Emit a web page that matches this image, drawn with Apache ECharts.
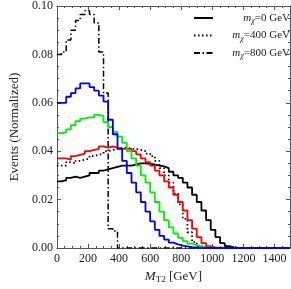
<!DOCTYPE html>
<html><head><meta charset="utf-8">
<script src="https://cdn.jsdelivr.net/npm/echarts@6/dist/echarts.min.js"></script>
<style>html,body{margin:0;padding:0;background:#fff}#c{width:291px;height:289px}</style>
</head><body><div id="c"></div>
<script>
const binWidth = 30;
const legendNames = ['m_χ=0 GeV', 'm_χ=400 GeV', 'm_χ=800 GeV'];
const mchi0 = [0.0275,0.028,0.029,0.0295,0.029,0.0295,0.030,0.031,0.031,0.032,
  0.0325,0.033,0.0335,0.034,0.034,0.034,0.0345,0.035,0.035,0.0348,
  0.0345,0.034,0.0337,0.033,0.0315,0.030,0.029,0.027,0.025,0.022,
  0.019,0.0155,0.0115,0.0075,0.0045,0.002,0.0008,0.0003,0,0,
  0,0,0,0,0,0,0,0,0,0];
const mchi400 = [0.034,0.034,0.0355,0.035,0.036,0.0365,0.037,0.038,0.0385,0.039,
  0.040,0.0405,0.041,0.0415,0.0415,0.041,0.041,0.0405,0.040,0.039,
  0.038,0.036,0.033,0.030,0.027,0.0225,0.018,0.012,0.0065,0.0025,
  0.0008,0.0002,0,0,0,0,0,0,0,0,
  0,0,0,0,0,0,0,0,0,0];
const mchi800 = [0.080,0.081,0.086,0.090,0.094,0.0965,0.098,0.0965,0.093,0.081,
  0.064,0.008,0.007,0,0,0,0,0,0,0,
  0,0,0,0,0,0,0,0,0,0,
  0,0,0,0,0,0,0,0,0,0,
  0,0,0,0,0,0,0,0,0,0];
const redVals = [0.037,0.037,0.0365,0.038,0.0385,0.039,0.040,0.0405,0.041,0.042,
  0.0415,0.042,0.0415,0.041,0.041,0.041,0.040,0.0387,0.037,0.0355,
  0.034,0.032,0.030,0.0275,0.025,0.022,0.019,0.0155,0.0115,0.008,
  0.0045,0.002,0.0008,0.0003,0,0,0,0,0,0,
  0,0,0,0,0,0,0,0,0,0];
const greenVals = [0.0475,0.0478,0.049,0.0508,0.0524,0.0535,0.054,0.054,0.055,0.0545,
  0.052,0.050,0.048,0.046,0.0435,0.040,0.037,0.034,0.030,0.027,
  0.023,0.019,0.015,0.0115,0.0085,0.006,0.0042,0.0028,0.0018,0.0012,
  0.0007,0.0004,0.0002,0,0,0,0,0,0,0,
  0,0,0,0,0,0,0,0,0,0];
const blueVals = [0.060,0.060,0.0625,0.064,0.066,0.068,0.068,0.0665,0.065,0.063,
  0.0605,0.053,0.047,0.041,0.036,0.031,0.027,0.023,0.019,0.015,
  0.011,0.0075,0.005,0.0035,0.0022,0.0015,0.001,0.0007,0.0004,0.0002,
  0,0,0,0,0,0,0,0,0,0,
  0,0,0,0,0,0,0,0,0,0];

function toSteps(vals){
  const d = vals.map((v,i)=>[i*binWidth, v]);
  d.push([vals.length*binWidth, vals[vals.length-1]]);
  return d;
}
const serif = '"Liberation Serif", "DejaVu Serif", serif';
const axisCol = '#555';
const txt = '#222';
function mkLine(name, vals, color, width, type){
  return {name, type:'line', step:'end', symbol:'none', showSymbol:false,
    data: toSteps(vals), lineStyle:{color, width, type}, itemStyle:{color},
    emphasis:{disabled:true}, animation:false};
}
const chart = echarts.init(document.getElementById('c'), null, {renderer:'canvas'});
const xCommon = {type:'value', min:0, max:1500, interval:200,
  axisLine:{show:true, onZero:false, lineStyle:{color:axisCol, width:1}},
  axisTick:{show:true, inside:true, length:4, lineStyle:{color:axisCol}},
  minorTick:{show:true, splitNumber:4, length:2, lineStyle:{color:axisCol}},
  splitLine:{show:false}};
const yCommon = {type:'value', min:0, max:0.10, interval:0.02,
  axisLine:{show:true, onZero:false, lineStyle:{color:axisCol, width:1}},
  axisTick:{show:true, inside:true, length:4, lineStyle:{color:axisCol}},
  minorTick:{show:true, splitNumber:4, length:2, lineStyle:{color:axisCol}},
  splitLine:{show:false}};
chart.setOption({
  animation:false,
  backgroundColor:'#fff',
  grid:{left:41, right:1, top:6, bottom:35},
  legend:{
    data: legendNames, orient:'vertical', left:188, top:7.5,
    itemWidth:19, itemHeight:10, itemGap:5, selectedMode:false,
    itemStyle:{opacity:0},
    formatter: n => { const p = n.split('_χ'); return '{i|m}{s|χ}{r|' + p[1] + '}'; },
    textStyle:{ fontFamily:serif, fontSize:11, color:txt, width:72, padding:[0,0,0,0],
      rich:{ i:{fontFamily:serif, fontStyle:'italic', fontSize:11, color:txt, align:'right'},
             s:{fontFamily:serif, fontStyle:'italic', fontSize:8, color:txt, verticalAlign:'bottom', padding:[6,0,0,0], align:'right'},
             r:{fontFamily:serif, fontSize:11, color:txt, align:'right'} } }
  },
  xAxis:[
    Object.assign({}, xCommon, {position:'bottom',
      axisLabel:{show:true, showMaxLabel:false, margin:5, fontFamily:serif, fontSize:12, color:txt, formatter: v => String(v)},
      name:'{i|M}{s|T2}{r| [GeV]}', nameLocation:'middle', nameGap:21,
      nameTextStyle:{fontFamily:serif, fontSize:12, color:txt,
        rich:{ i:{fontFamily:serif, fontStyle:'italic', fontSize:13, color:txt},
               s:{fontFamily:serif, fontSize:9, color:txt, padding:[6,0,0,0]},
               r:{fontFamily:serif, fontSize:13, color:txt} } } }),
    Object.assign({}, xCommon, {position:'top', axisLabel:{show:false}})
  ],
  yAxis:[
    Object.assign({}, yCommon, {position:'left',
      axisLabel:{show:true, margin:4, fontFamily:serif, fontSize:12, color:txt, formatter: v => v.toFixed(2)},
      name:'Events (Normalized)', nameLocation:'middle', nameGap:30,
      nameTextStyle:{fontFamily:serif, fontSize:13, color:txt} }),
    Object.assign({}, yCommon, {position:'right', axisLabel:{show:false}})
  ],
  series:[
    mkLine(legendNames[0], mchi0, '#000', 1.8, 'solid'),
    mkLine(legendNames[1], mchi400, '#000', 1.8, [1.5,2.5]),
    mkLine(legendNames[2], mchi800, '#000', 1.5, [6,2.5,1.5,2.5]),
    mkLine('red', redVals, '#ff0000', 1.8, 'solid'),
    mkLine('green', greenVals, '#00ee00', 1.8, 'solid'),
    mkLine('blue', blueVals, '#0000ff', 1.8, 'solid')
  ]
});
</script></body></html>
